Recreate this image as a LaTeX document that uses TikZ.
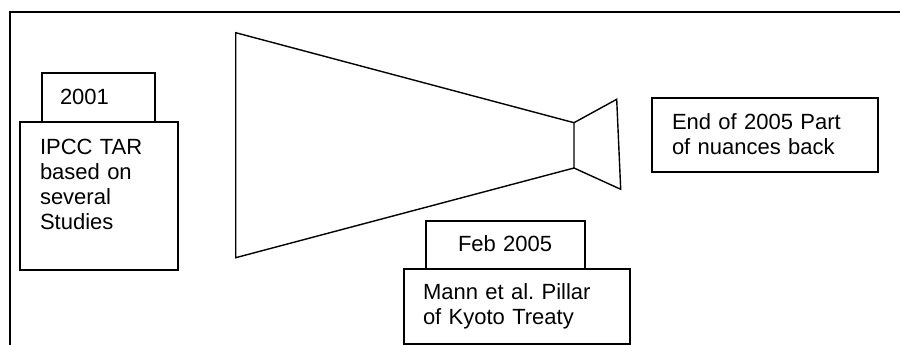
\documentclass[tikz,border=0pt]{standalone}
\usepackage{fontspec}
\setmainfont{Liberation Sans}
\frenchspacing
\begin{document}
\begin{tikzpicture}[x=1pt, y=-1pt, line width=1.4pt,
  box/.style={draw, rectangle, inner sep=0pt, outer sep=0pt, anchor=north west},
  txt/.style={anchor=base west, inner sep=0pt, outer sep=0pt, align=left,
              font=\fontsize{22}{25.3}\selectfont}]
\useasboundingbox (0,0) rectangle (900,345);

% open frame: top and left sides only
\draw (10,345) -- (10,12) -- (900,12);

% funnel: wide cone narrowing to a throat, then a short flare
\coordinate (wideTop) at (235.7,32.7);
\coordinate (wideBot) at (235.7,257.7);
\coordinate (throatTop) at (574,122.7);
\coordinate (throatBot) at (574,168);
\coordinate (flareTop) at (616.7,99.3);
\coordinate (flareBot) at (620.7,189.3);
\draw[line join=miter] (wideTop) -- (throatTop) -- (throatBot) -- (wideBot) -- cycle;
\draw[line join=miter] (throatTop) -- (flareTop) -- (flareBot) -- (throatBot);

% 2001 card with its tab
\node[box, minimum width=113, minimum height=49] (tab01) at (42,73) {};
\node[box, minimum width=158, minimum height=148] (ipcc) at (20,122) {};
\node[txt, text width=80] (tab01txt) at (60,104) {2001};
\node[txt, text width=130] (ipcctxt) at (40,154) {IPCC TAR\\based on\\several\\Studies};

% Feb 2005 card with its tab
\node[box, minimum width=159, minimum height=48] (tab05) at (426,221) {};
\node[box, minimum width=226, minimum height=75] (mann) at (404,269) {};
\node[txt, text width=120] (tab05txt) at (458,251.7) {Feb 2005};
\node[txt, text width=200] (manntxt) at (423,299.3) {Mann et al. Pillar\\of Kyoto Treaty};

% end of 2005 card
\node[box, minimum width=226, minimum height=74] (endcard) at (652,98) {};
\node[txt, text width=200] (endtxt) at (672,129) {End of 2005 Part\\of nuances back};
\end{tikzpicture}
\end{document}
